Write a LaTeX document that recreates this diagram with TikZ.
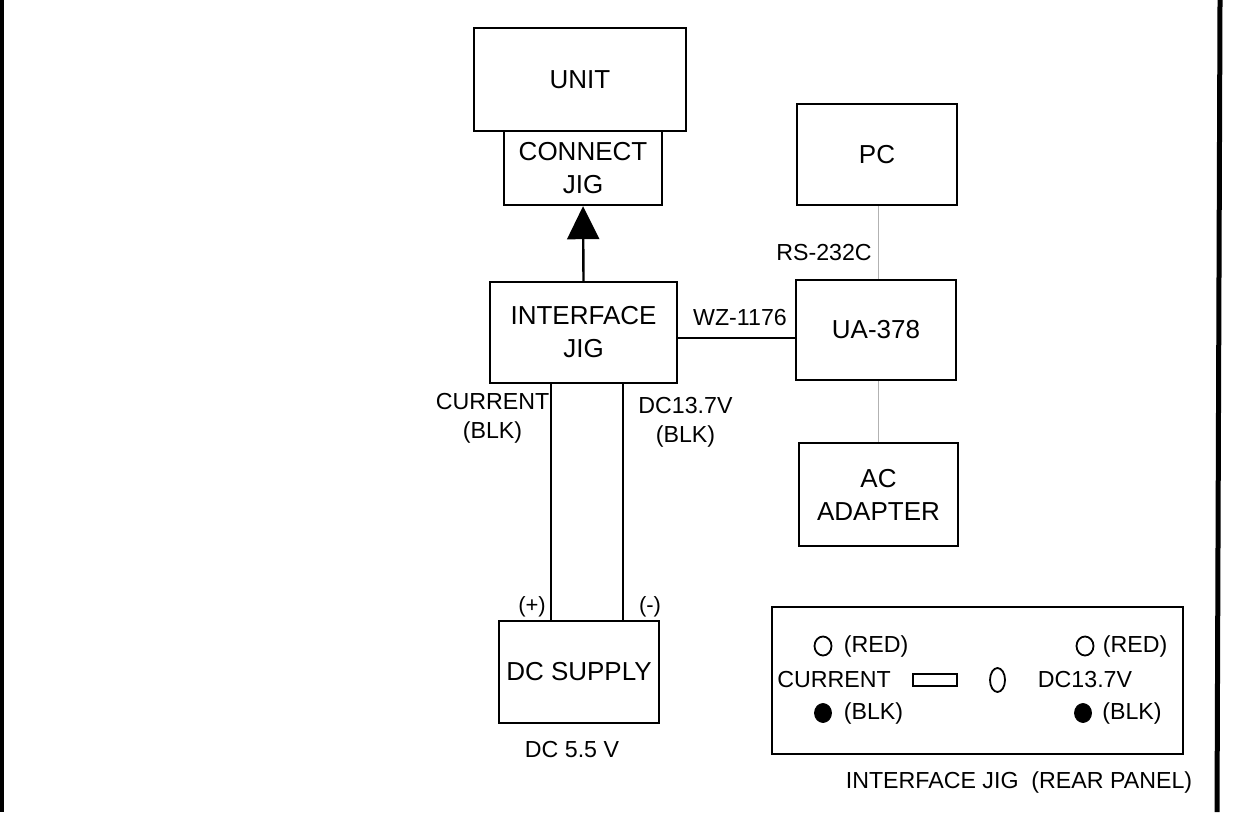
\documentclass[tikz,border=0pt]{standalone}
\usepackage{fontspec}
\setmainfont{Liberation Sans}
\usetikzlibrary{arrows.meta,shapes.geometric}
\begin{document}
\begin{tikzpicture}[x=0.5pt,y=-0.5pt,
  box/.style={draw,line width=1.2pt,inner sep=0pt,align=center,
    font=\fontsize{13}{16.5}\selectfont},
  lbl/.style={inner sep=0pt,align=center,font=\fontsize{11.6}{14.5}\selectfont},
  sml/.style={inner sep=0pt,font=\fontsize{11}{13}\selectfont},
  wire/.style={line width=1.1pt},
  thinwire/.style={draw=gray!60,line width=0.4pt},
  hole/.style={ellipse,draw,line width=0.9pt,inner sep=0pt},
  plug/.style={ellipse,fill,draw,inner sep=0pt,minimum width=8.5pt,minimum height=9.5pt}]
\useasboundingbox (0,0) rectangle (1234,812);
% page border lines
\draw[line width=1.6pt] (2,0) -- (2,812);
\draw[line width=2.5pt] (1220,0) -- (1217,812);
% boxes
\node[box,minimum width=106pt,minimum height=51.5pt] (unit) at (580,79.5) {UNIT};
\node[box,minimum width=79pt,minimum height=37pt] (connect) at (583,168) {CONNECT\\JIG};
\node[box,minimum width=93.5pt,minimum height=50.5pt] (iface) at (583.5,332.5) {INTERFACE\\JIG};
\node[box,minimum width=80pt,minimum height=50.5pt] (pc) at (877,154.5) {PC};
\node[box,minimum width=80pt,minimum height=50pt] (ua) at (876,330) {UA-378};
\node[box,minimum width=79.5pt,minimum height=51.5pt] (ac) at (878.5,494.5) {AC\\ADAPTER};
\node[box,minimum width=80pt,minimum height=51pt] (dcs) at (579,672) {DC SUPPLY};
\node[box,line width=1pt,minimum width=205.5pt,minimum height=73.5pt] (rear) at (977.5,680.5) {};
% connectors
\draw[line width=1.2pt,-{Triangle[width=16pt,length=16.5pt]}] (iface.north) -- (connect.south);
\coordinate (wz) at (0,338);
\draw[wire] (iface.east |- wz) -- (ua.west |- wz);
\coordinate (rs) at (878,0);
\draw[thinwire] (pc.south -| rs) -- (ua.north -| rs);
\draw[thinwire] (ua.south -| rs) -- (ac.north -| rs);
\coordinate (w1) at (551,0);
\coordinate (w2) at (623,0);
\draw[wire] (iface.south -| w1) -- (dcs.north -| w1);
\draw[wire] (iface.south -| w2) -- (dcs.north -| w2);
% labels
\node[lbl] (lwz) at (740,318) {WZ-1176};
\node[lbl] (lrs) at (824,253) {RS-232C};
\node[lbl] (lcur) at (492.5,418) {CURRENT\\(BLK)};
\node[lbl] (ldc) at (685.5,422) {DC13.7V\\(BLK)};
\node[sml] (lplus) at (532,607) {(+)};
\node[sml] (lminus) at (650,607) {(-)};
\node[lbl] (l55) at (572,750) {DC 5.5 V};
% rear panel contents
\node[hole,minimum width=8.5pt,minimum height=9.5pt] (r1) at (823,646) {};
\node[lbl] (tr1) at (876,646) {(RED)};
\node[hole,minimum width=8.5pt,minimum height=9.5pt] (r2) at (1085,646) {};
\node[lbl] (tr2) at (1135,646) {(RED)};
\node[lbl] (tcur) at (834,680) {CURRENT};
\node[draw,line width=0.9pt,minimum width=22pt,minimum height=6pt,inner sep=0pt] (sw) at (935,680) {};
\node[hole,minimum width=7.5pt,minimum height=12pt] (o) at (997.5,680) {};
\node[lbl] (tdc) at (1085,680) {DC13.7V};
\node[plug] (b1) at (823,713) {};
\node[lbl] (tb1) at (873.5,713) {(BLK)};
\node[plug] (b2) at (1083,713) {};
\node[lbl] (tb2) at (1132,713) {(BLK)};
\node[lbl] (cap) at (1019,782) {INTERFACE JIG\ \ (REAR PANEL)};
\end{tikzpicture}
\end{document}
